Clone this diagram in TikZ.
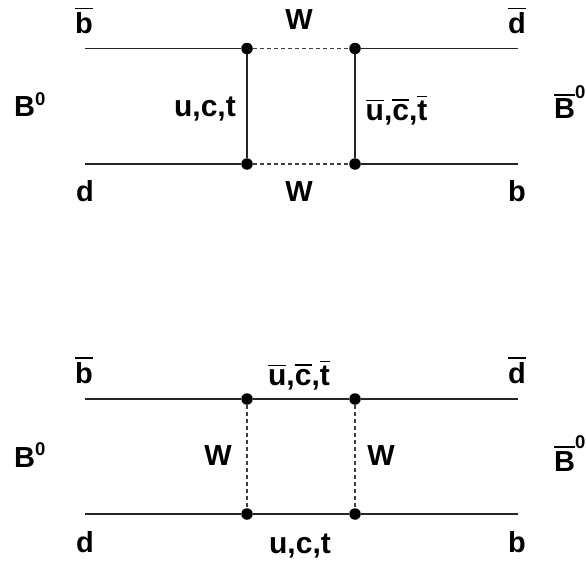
\documentclass[tikz,border=0pt]{standalone}
\usepackage{fontspec}
\setmainfont{Liberation Sans}
\newcommand{\qbar}[1]{\vbox{\hrule height 1.4pt \kern 3.2pt \hbox{#1}}}
\newcommand{\zsup}[1]{\raisebox{#1}{\fontsize{18.5}{18.5}\selectfont 0}}
\tikzset{
  fermion/.style={draw=black!85, line width=1.05pt},
  boson/.style={draw=black!75, line width=1.05pt, dash pattern=on 4pt off 3pt},
  vtx/.style={circle, fill=black, inner sep=0pt, minimum size=11.5pt},
  lab/.style={text=black, font=\fontsize{29}{29}\selectfont\bfseries, inner sep=0pt, anchor=base},
  labl/.style={lab, anchor=base west},
  labq/.style={lab, font=\fontsize{30}{30}\selectfont\bfseries},
}
\begin{document}
\begin{tikzpicture}[x=1pt,y=-1pt]
  \useasboundingbox (0,0) rectangle (586,562);

  % upper box
  \coordinate (a1) at (85,48.5);
  \coordinate (a2) at (518,48.5);
  \coordinate (a3) at (85,164);
  \coordinate (a4) at (518,164);
  \node[vtx] (v1) at (247,48.5) {};
  \node[vtx] (v2) at (355,48.5) {};
  \node[vtx] (v3) at (247,164) {};
  \node[vtx] (v4) at (355,164) {};

  \draw[fermion] (a1)--(v1);
  \draw[fermion] (v2)--(a2);
  \draw[fermion] (a3)--(v3);
  \draw[fermion] (v4)--(a4);
  \draw[fermion] (v1)--(v3);
  \draw[fermion] (v2)--(v4);
  \draw[boson] (v1)--(v2);
  \draw[boson] (v3)--(v4);

  \node[lab] (t1) at (84,33.5) {\qbar{b}};
  \node[lab] (t2) at (299,29) {W};
  \node[lab] (t3) at (517,33.5) {\qbar{d}};
  \node[labl] (t4) at (14,116.7) {B\zsup{11.5pt}};
  \node[labq,anchor=base east] (t5) at (236,116.7) {u,c,t};
  \node[labq,anchor=base west] (t6) at (365.5,120) {\qbar{u},\qbar{c},\qbar{t}};
  \node[labl] (t7) at (554,118.7) {\qbar{B}\zsup{20.5pt}};
  \node[lab] (t8) at (85,201) {d};
  \node[lab] (t9) at (299,201) {W};
  \node[lab] (t10) at (517,201) {b};

  % lower box
  \coordinate (b1) at (85,399);
  \coordinate (b2) at (518,399);
  \coordinate (b3) at (85,514);
  \coordinate (b4) at (518,514);
  \node[vtx] (w1) at (247,399) {};
  \node[vtx] (w2) at (355,399) {};
  \node[vtx] (w3) at (247,514) {};
  \node[vtx] (w4) at (355,514) {};

  \draw[fermion] (b1)--(w1);
  \draw[fermion] (w1)--(w2);
  \draw[fermion] (w2)--(b2);
  \draw[fermion] (b3)--(w3);
  \draw[fermion] (w3)--(w4);
  \draw[fermion] (w4)--(b4);
  \draw[boson] (w1)--(w3);
  \draw[boson] (w2)--(w4);

  \node[lab] (s1) at (84,383) {\qbar{b}};
  \node[labq] (s2) at (299,385) {\qbar{u},\qbar{c},\qbar{t}};
  \node[lab] (s3) at (517,383) {\qbar{d}};
  \node[labl] (s4) at (14,467) {B\zsup{11.5pt}};
  \node[lab] (s5) at (218,465) {W};
  \node[lab] (s6) at (381,465) {W};
  \node[labl] (s7) at (554,471) {\qbar{B}\zsup{23pt}};
  \node[lab] (s8) at (85,552) {d};
  \node[labq] (s9) at (300,553) {u,c,t};
  \node[lab] (s10) at (517,552) {b};
\end{tikzpicture}
\end{document}
